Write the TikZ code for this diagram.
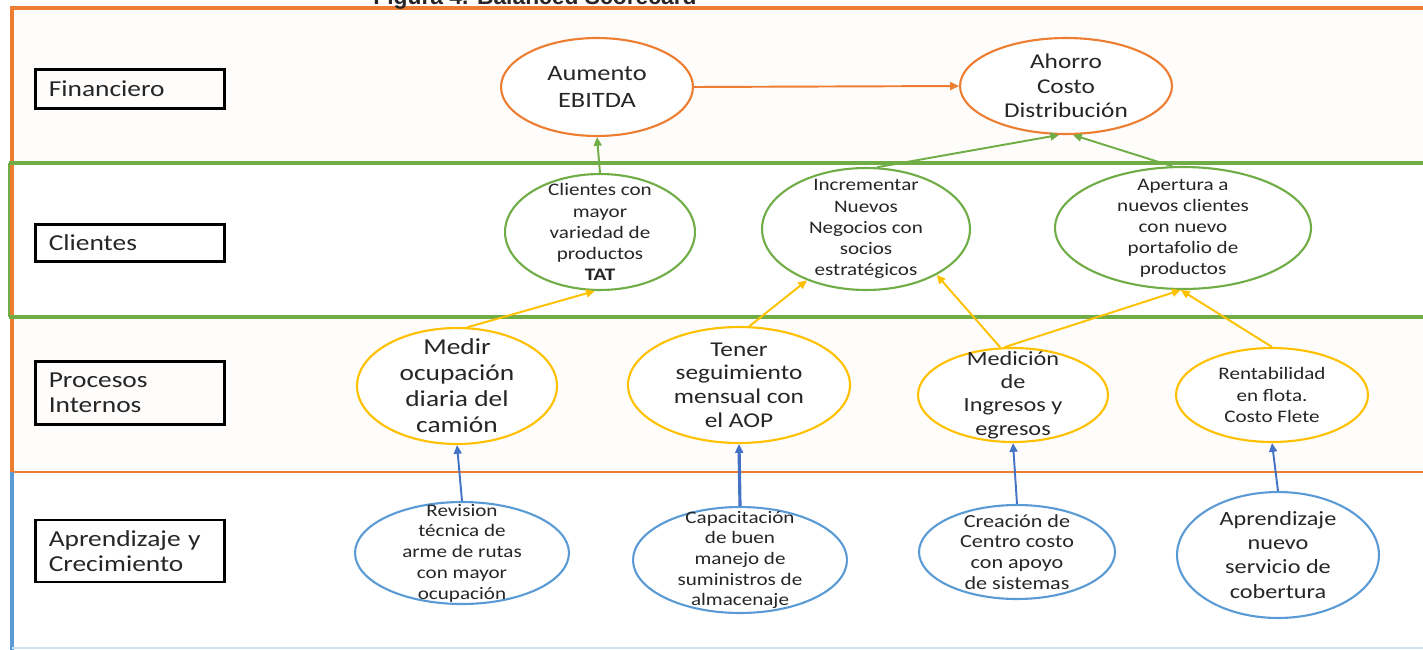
\documentclass[tikz,border=0pt]{standalone}
\usepackage{fontspec}
\setmainfont{Carlito}[FakeStretch=1.2]
\newfontfamily\titlefont{Liberation Sans}
\usepackage{xcolor}
\usepackage{tikz}
\usetikzlibrary{arrows.meta,positioning,shapes.geometric}
\definecolor{Fin}{HTML}{ED7D31}
\definecolor{Cli}{HTML}{70AD47}
\definecolor{Pro}{HTML}{FFC000}
\definecolor{Apr}{HTML}{5B9BD5}
\definecolor{AprDark}{HTML}{4472C4}
\newcommand{\fs}[2]{\fontsize{#1}{#2}\selectfont}

\begin{document}
\begin{tikzpicture}[x=0.02cm,y=-0.02cm,every node/.style={align=center,text=black!85},
  persp/.style={draw=black,line width=1.3pt,minimum width=3.78cm,text width=3.25cm,inner xsep=0.265cm,align=left,font=\fs{13}{14.5}},
  obj/.style={ellipse,line width=1.2pt,fill=white},
  lnk/.style={-{Triangle[length=5pt,width=4.5pt]},line width=1.1pt}]
  \useasboundingbox (0,0) rectangle (1423,649);
  % bands
  \fill[Fin!1.5] (12,8) rectangle (1430,163);
  \fill[Fin!1.5] (12,317) rectangle (1430,472);
  \draw[Fin,line width=1.8pt] (1430,8) -- (12,8) -- (12,472);
  \draw[Fin,line width=0.9pt] (12,472) -- (1430,472);
  \draw[Cli,line width=1.8pt] (1430,163) -- (9,163);
  \draw[Cli,line width=1.8pt] (1430,317) -- (9,317);
  \draw[Cli,line width=0.7pt] (9,163) -- (9,317);
  \draw[Apr,line width=1.8pt] (12,472) -- (12,652);
  \draw[Apr!30,line width=1pt] (12,648) -- (1430,648);
  \node[anchor=base,font=\titlefont\bfseries\fs{13}{15}] (ttl) at (535,5) {Figura 4. Balanced Scorecard};
  % perspectives
  \node[persp,minimum height=0.78cm] (fin) at (130,89) {Financiero};
  \node[persp,minimum height=0.74cm] (cl) at (130,243) {Clientes};
  \node[persp,minimum height=1.26cm] (pi) at (130,393) {Procesos\\Internos};
  \node[persp,minimum height=1.24cm] (ac) at (130,551) {Aprendizaje y\\Crecimiento};
  % financiero
  \node[obj,draw=Fin,minimum width=3.84cm,minimum height=1.96cm] (aum) at (597,87) {};
  \node[font=\fs{12.5}{15}] at (aum) {Aumento\\EBITDA};
  \node[obj,draw=Fin,minimum width=4.24cm,minimum height=1.92cm] (aho) at (1066,86) {};
  \node[font=\fs{12}{14}] at (aho) {Ahorro\\Costo\\Distribución};
  % clientes
  \node[obj,draw=Cli,minimum width=3.8cm,minimum height=2.32cm] (cli) at (600,232) {};
  \node[font=\fs{10}{12}] at (cli) {Clientes con\\mayor\\variedad de\\productos\\\textbf{TAT}};
  \node[obj,draw=Cli,minimum width=4.16cm,minimum height=2.44cm] (inc) at (866,229) {};
  \node[font=\fs{10}{12}] at (inc) {Incrementar\\Nuevos\\Negocios con\\socios\\estratégicos};
  \node[obj,draw=Cli,minimum width=5.12cm,minimum height=2.44cm] (ape) at (1183,228) {};
  \node[font=\fs{10}{12}] at (ape) {Apertura a\\nuevos clientes\\con nuevo\\portafolio de\\productos};
  % procesos internos
  \node[obj,draw=Pro,minimum width=4cm,minimum height=2.32cm] (med) at (457,386) {};
  \node[font=\fs{13}{14.8}] at (med) {Medir\\ocupación\\diaria del\\camión};
  \node[obj,draw=Pro,minimum width=4.44cm,minimum height=2.32cm] (ten) at (739,385) {};
  \node[font=\fs{12}{13.4}] at (ten) {Tener\\seguimiento\\mensual con\\el AOP};
  \node[obj,draw=Pro,minimum width=3.8cm,minimum height=1.88cm] (mdc) at (1013,395) {};
  \node[font=\fs{11.5}{13.2}] at (mdc) {Medición\\de\\Ingresos y\\egresos};
  \node[obj,draw=Pro,minimum width=3.84cm,minimum height=1.88cm] (ren) at (1272,395) {};
  \node[font=\fs{10}{12.2}] at (ren) {Rentabilidad\\en flota.\\Costo Flete};
  % aprendizaje
  \node[obj,draw=Apr,minimum width=4.28cm,minimum height=2.04cm] (rev) at (462,553) {};
  \node[font=\fs{10}{11.8}] at (rev) {Revision\\técnica de\\arme de rutas\\con mayor\\ocupación};
  \node[obj,draw=Apr,minimum width=4.28cm,minimum height=2.12cm] (cap) at (740,560) {};
  \node[font=\fs{10}{11.7}] at (cap) {Capacitación\\de buen\\manejo de\\suministros de\\almacenaje};
  \node[obj,draw=Apr,minimum width=3.92cm,minimum height=1.88cm] (cre) at (1017,552) {};
  \node[font=\fs{10.5}{11.8}] at (cre) {Creación de\\Centro costo\\con apoyo\\de sistemas};
  \node[obj,draw=Apr,minimum width=4.04cm,minimum height=2.52cm] (apr) at (1278,555) {};
  \node[font=\fs{11.5}{13.7}] at (apr) {Aprendizaje\\nuevo\\servicio de\\cobertura};
  % links
  \draw[lnk,Fin] (aum.east) -- (aho.west);
  \draw[lnk,Cli] (cli.north) -- (aum.south);
  \draw[lnk,Cli] (inc.80) -- (aho.262);
  \draw[lnk,Cli] (ape.100) -- (aho.278);
  \draw[lnk,Pro] (med.80) -- (cli.265);
  \draw[lnk,Pro] (ten.80) -- (inc.221);
  \draw[lnk,Pro] (mdc.105) -- (inc.327);
  \draw[lnk,Pro] (mdc.100) -- (ape.268);
  \draw[lnk,Pro] (ren.north) -- (ape.268);
  \draw[lnk,AprDark] (rev.north) -- (med.south);
  \draw[lnk,AprDark,line width=1.8pt] (cap.north) -- (ten.south);
  \draw[lnk,AprDark] (cre.north) -- (mdc.south);
  \draw[lnk,AprDark] (apr.north) -- (ren.south);
\end{tikzpicture}
\end{document}
